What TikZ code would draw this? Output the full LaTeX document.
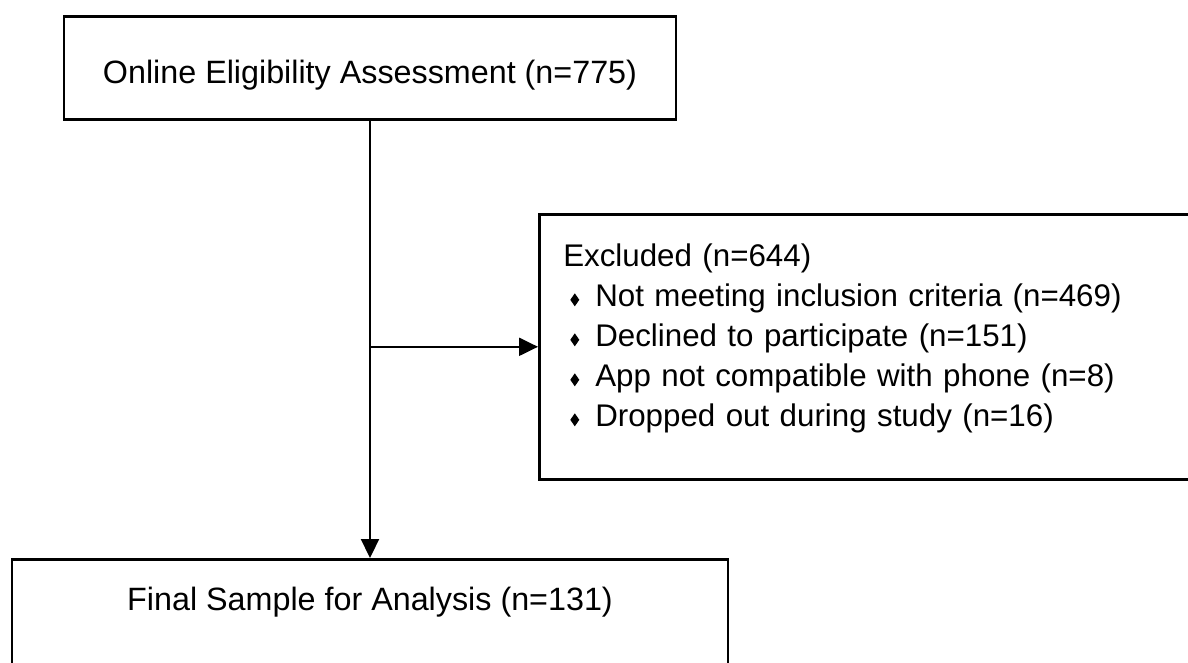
\documentclass[tikz,border=0pt]{standalone}
\usepackage{fontspec}
\setmainfont{Liberation Sans}
\usetikzlibrary{arrows.meta,calc}
\newcommand{\dmd}{\tikz[baseline=0pt]\fill[black] (0pt,0pt)--(4.5pt,6.5pt)--(0pt,13pt)--(-4.5pt,6.5pt)--cycle;}
\begin{document}
\begin{tikzpicture}[x=1pt,y=-1pt,
  box/.style={draw=black, line width=2.6pt, rectangle, font=\fontsize{32.3pt}{40pt}\selectfont},
  arr/.style={line width=2.2pt, -{Triangle[length=19pt,width=18pt]}}]
\useasboundingbox (0,0) rectangle (1188,662);
\node[box, anchor=north, minimum width=612pt, inner ysep=0pt, text height=67pt, text depth=36pt] (top) at (370,15) {Online Eligibility Assessment (n=775)};
\node[box, font=\fontsize{31.3pt}{40pt}\selectfont, anchor=north west, inner xsep=24pt, inner ysep=0pt, text width=622pt, align=left, text height=52pt, text depth=213pt] (excl) at (538,213)
{Excluded (n=644)\\\hspace*{7pt}\dmd\hspace{16pt}Not meeting inclusion criteria (n=469)\\\hspace*{7pt}\dmd\hspace{16pt}Declined to participate (n=151)\\\hspace*{7pt}\dmd\hspace{16pt}App not compatible with phone (n=8)\\\hspace*{7pt}\dmd\hspace{16pt}Dropped out during study (n=16)};
\node[box, anchor=north, minimum width=716pt, inner ysep=0pt, text height=51pt, text depth=113pt] (final) at (370,558) {Final Sample for Analysis (n=131)};
\draw[arr] (top.south) -- (final.north);
\draw[arr] (top.south |- excl.west) -- (excl.west);
\end{tikzpicture}
\end{document}
